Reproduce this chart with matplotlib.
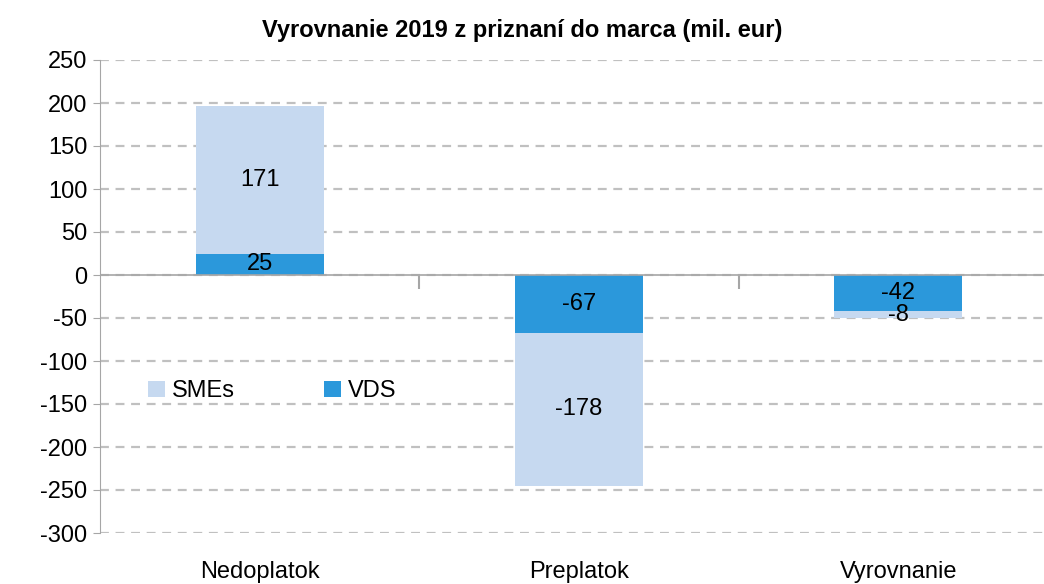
import numpy as np
import matplotlib
matplotlib.use('Agg')
import matplotlib.pyplot as plt

categories = ['Nedoplatok', 'Preplatok', 'Vyrovnanie']
vds = [25, -67, -42]
smes = [171, -178, -8]
yticks = [250, 200, 150, 100, 50, 0, -50, -100, -150, -200, -250, -300]

plt.rcParams['font.family'] = ['Liberation Sans', 'DejaVu Sans']

c_vds = '#2b98db'
c_sme = '#c6d9f0'
grey = '#a6a6a6'

fig = plt.figure(figsize=(10.44, 5.84), dpi=100)
ax = fig.add_axes([100 / 1044, 1 - 533 / 584, 958 / 1044, 473 / 584])

x = np.arange(len(categories))
w = 0.4
ax.bar(x, vds, w, color=c_vds, label='VDS', zorder=3)
ax.bar(x, smes, w, bottom=vds, color=c_sme, label='SMEs', zorder=3)

for xi, v, s in zip(x, vds, smes):
    ax.text(xi, v / 2, f'{v}', ha='center', va='center', fontsize=17, zorder=5)
    ax.text(xi, v + s / 2, f'{s}', ha='center', va='center', fontsize=17, zorder=5)

ax.set_xlim(-0.5, 2.5)
ax.set_ylim(-300, 250)
ax.set_yticks(yticks)
ax.set_yticklabels([str(t) for t in yticks], fontsize=17)
ax.yaxis.grid(True, linestyle=(0, (4, 3)), color='#c0c0c0', linewidth=1.6, zorder=0)
ax.axhline(0, color=grey, linewidth=1.2, zorder=4)

ax.set_xticks(x)
ax.set_xticklabels(categories, fontsize=17)
ax.tick_params(axis='x', length=0, pad=20)
ax.tick_params(axis='y', length=5, color=grey, pad=4)

for side in ['top', 'right', 'bottom']:
    ax.spines[side].set_visible(False)
ax.spines['left'].set_color(grey)

sec = ax.secondary_xaxis(300 / 550)
sec.set_xticks([0.5, 1.5])
sec.set_xticklabels(['', ''])
sec.tick_params(length=10, width=1.5, color=grey, direction='in')
for sp in sec.spines.values():
    sp.set_visible(False)

handles, labels = ax.get_legend_handles_labels()
ax.legend(handles[::-1], labels[::-1], loc='center left', bbox_to_anchor=(0.028, 0.30),
          ncol=2, frameon=False, fontsize=17, handlelength=0.7, handleheight=0.7,
          columnspacing=3.8, handletextpad=0.3)

fig.text(0.5, 1 - 30 / 584, 'Vyrovnanie 2019 z priznaní do marca (mil. eur)',
         ha='center', va='center', fontsize=17, fontweight='bold')

fig.savefig('out.png', dpi=100)
